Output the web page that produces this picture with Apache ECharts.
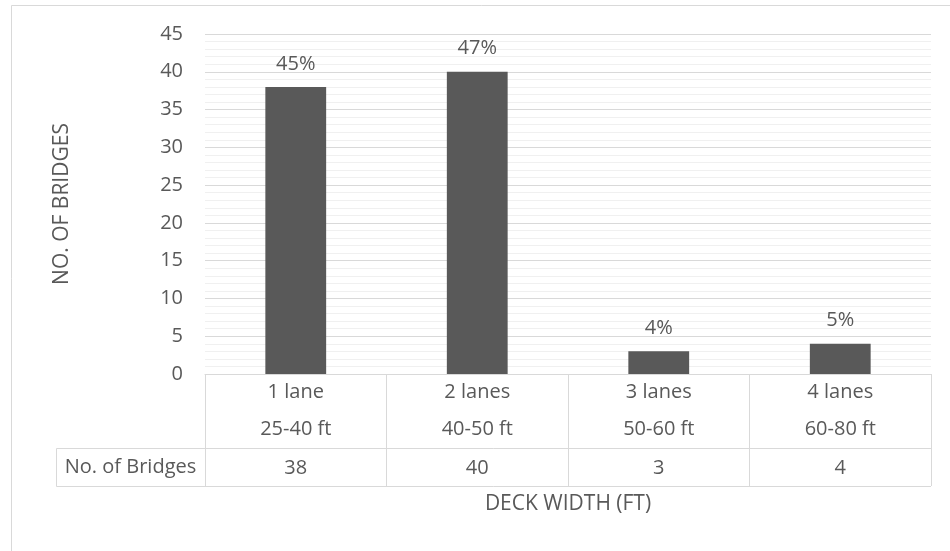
<!DOCTYPE html>
<html>
<head>
<meta charset="utf-8">
<script src="https://cdn.jsdelivr.net/npm/echarts@6/dist/echarts.min.js"></script>
<style>
  html, body { margin: 0; padding: 0; background: #fff; }
  #chart { width: 950px; height: 551px; }
</style>
</head>
<body>
<div id="chart"></div>
<script>
// Bridge counts by deck width
const laneNames = ['1 lane', '2 lanes', '3 lanes', '4 lanes'];
const widthRanges = ['25-40 ft', '40-50 ft', '50-60 ft', '60-80 ft'];
const bridgeCounts = [38, 40, 3, 4];
const shareLabels = ['45%', '47%', '4%', '5%'];
const yTicks = { min: 0, max: 45, step: 5 };
const rowTitle = 'No. of Bridges';

const FONT = '"Open Sans", "Liberation Sans", sans-serif';
const TXT = '#595959';
const LINE = '#d9d9d9';
const FS = 20;
const NAME_FS = 21;

const G = { left: 205, right: 19, top: 34, bottom: 177 };
const ROW1 = 74;   // height of the category rows in the table
const ROW2 = 38;   // height of the value row
const TITLE_LEFT = 56;

const chart = echarts.init(document.getElementById('chart'), null, { renderer: 'canvas' });

const categories = laneNames.map((n, i) => n + '\n' + widthRanges[i]);

chart.setOption({
  animation: false,
  backgroundColor: '#fff',
  textStyle: { fontFamily: FONT },
  grid: G,
  xAxis: [{
    type: 'category',
    data: categories,
    position: 'bottom',
    axisLine: { show: true, lineStyle: { color: LINE, width: 1 } },
    axisTick: { show: true, length: ROW1 + ROW2, lineStyle: { color: LINE, width: 1 } },
    axisLabel: { color: TXT, fontSize: FS, fontFamily: FONT, lineHeight: 37, margin: 0, interval: 0 }
  }, {
    type: 'category',
    data: bridgeCounts.map(String),
    position: 'bottom',
    offset: ROW1,
    axisLine: { show: false },
    axisTick: { show: false },
    axisLabel: { color: TXT, fontSize: FS, fontFamily: FONT, margin: 10, interval: 0 },
    name: 'DECK WIDTH (FT)',
    nameLocation: 'middle',
    nameGap: 46,
    nameTextStyle: { color: TXT, fontSize: NAME_FS, fontFamily: FONT }
  }],
  yAxis: {
    type: 'value',
    min: yTicks.min,
    max: yTicks.max,
    interval: yTicks.step,
    axisLine: { show: false },
    axisTick: { show: false },
    axisLabel: { color: TXT, fontSize: FS, fontFamily: FONT, margin: 22 },
    splitLine: { show: true, lineStyle: { color: LINE, width: 1 } },
    minorTick: { show: false, splitNumber: 5 },
    minorSplitLine: { show: true, lineStyle: { color: '#f0f0f0', width: 1 } },
    name: 'NO. OF BRIDGES',
    nameLocation: 'middle',
    nameGap: 132,
    nameTextStyle: { color: TXT, fontSize: NAME_FS, fontFamily: FONT }
  },
  series: [{
    type: 'bar',
    data: bridgeCounts,
    barWidth: '33.5%',
    itemStyle: { color: '#595959' },
    label: {
      show: true,
      position: 'top',
      distance: 13,
      color: TXT,
      fontSize: FS,
      fontFamily: FONT,
      formatter: p => shareLabels[p.dataIndex]
    }
  }]
});

// Table rules below the axis, derived from the grid extents
function drawTable() {
  const x0 = chart.convertToPixel({ xAxisIndex: 0 }, 0);
  const half = (chart.convertToPixel({ xAxisIndex: 0 }, 1) - x0) / 2;
  const right = chart.convertToPixel({ xAxisIndex: 0 }, laneNames.length - 1) + half;
  const left = x0 - half;
  const axisY = chart.convertToPixel({ yAxisIndex: 0 }, 0);
  const y1 = Math.round(axisY + ROW1) + 0.5;
  const y2 = Math.round(axisY + ROW1 + ROW2) + 0.5;
  const lx = TITLE_LEFT + 0.5;
  const ls = { stroke: LINE, lineWidth: 1 };
  chart.setOption({
    graphic: [
      { type: 'rect', silent: true, shape: { x: 11.5, y: 5.5, width: 1200, height: 800 }, style: { fill: null, stroke: LINE, lineWidth: 1 } },
      { type: 'line', silent: true, shape: { x1: lx, y1: y1, x2: right, y2: y1 }, style: ls },
      { type: 'line', silent: true, shape: { x1: lx, y1: y2, x2: right, y2: y2 }, style: ls },
      { type: 'line', silent: true, shape: { x1: lx, y1: y1, x2: lx, y2: y2 }, style: ls },
      { type: 'text', silent: true, style: { x: (TITLE_LEFT + left) / 2, y: (y1 + y2) / 2, text: rowTitle, fill: TXT, font: FS + 'px ' + FONT, align: 'center', verticalAlign: 'middle' } }
    ]
  });
}
drawTable();
</script>
</body>
</html>
